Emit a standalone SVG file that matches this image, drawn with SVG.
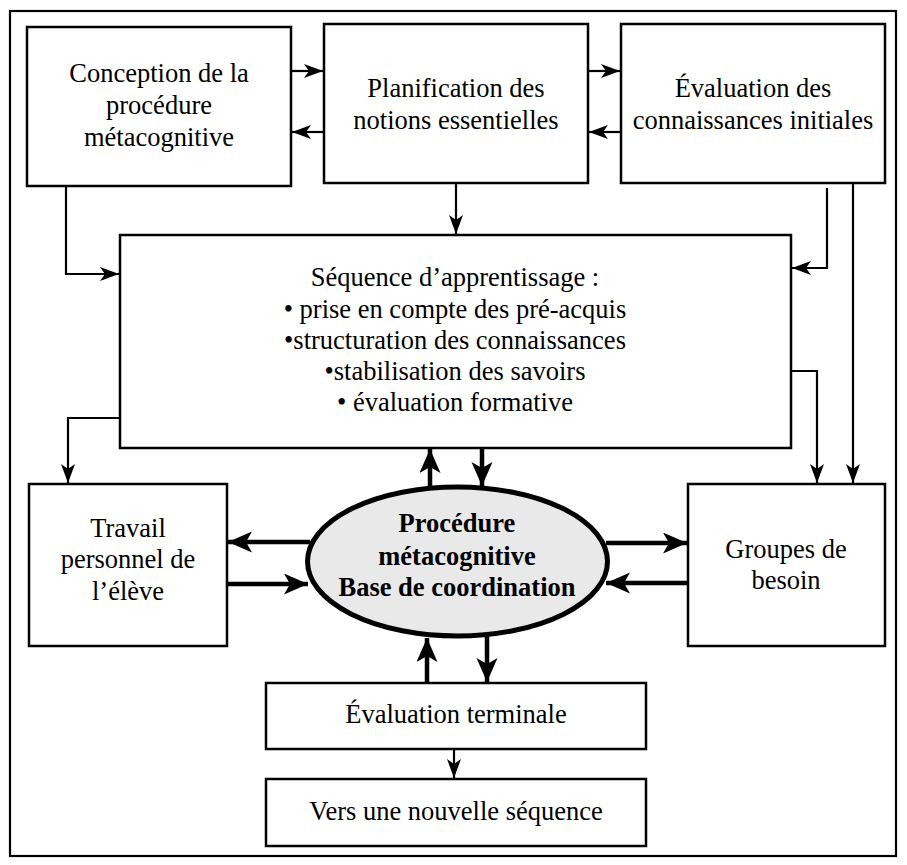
<svg xmlns="http://www.w3.org/2000/svg" width="907" height="865" viewBox="0 0 907 865">
<defs>
<style>
.box{fill:#fff;stroke:#000;stroke-width:2.5}
.t{font-family:"Liberation Serif","Times New Roman",serif;font-size:26.5px;fill:#000;text-anchor:middle}
.b{font-weight:bold}
.thin{fill:none;stroke:#000;stroke-width:2.2}
.thick{fill:none;stroke:#000;stroke-width:4.5}
</style>
<marker id="ah" markerUnits="userSpaceOnUse" markerWidth="20" markerHeight="16" refX="19" refY="7" orient="auto">
<path d="M0,0 L19,7 L0,14 L5,7 z" fill="#000"/>
</marker>
<marker id="ahb" markerUnits="userSpaceOnUse" markerWidth="26" markerHeight="24" refX="24" refY="10.5" orient="auto">
<path d="M0,0 L24,10.5 L0,21 L6,10.5 z" fill="#000"/>
</marker>
</defs>
<rect x="0" y="0" width="907" height="865" fill="#fff"/>
<rect x="10" y="11" width="886" height="845" fill="none" stroke="#000" stroke-width="2.2"/>

<g id="n1"><rect class="box" x="27" y="27" width="264" height="159"/>
<text class="t" x="159" y="82">Conception de la</text>
<text class="t" x="159" y="114">procédure</text>
<text class="t" x="159" y="146">métacognitive</text></g>

<g id="n2"><rect class="box" x="324" y="24" width="264" height="159"/>
<text class="t" x="456" y="97">Planification des</text>
<text class="t" x="456" y="129">notions essentielles</text></g>

<g id="n3"><rect class="box" x="621" y="24" width="264" height="159"/>
<text class="t" x="753" y="97">Évaluation des</text>
<text class="t" x="753" y="129">connaissances initiales</text></g>

<g id="n4"><rect class="box" x="120" y="235" width="671" height="213"/>
<text class="t" x="455" y="286">Séquence d’apprentissage :</text>
<text class="t" x="455" y="318">• prise en compte des pré-acquis</text>
<text class="t" x="455" y="349">•structuration des connaissances</text>
<text class="t" x="455" y="380">•stabilisation des savoirs</text>
<text class="t" x="455" y="411">• évaluation formative</text></g>

<g id="n5"><rect class="box" x="29" y="484" width="198" height="162"/>
<text class="t" x="128" y="537">Travail</text>
<text class="t" x="128" y="568">personnel de</text>
<text class="t" x="128" y="600">l’élève</text></g>

<g id="n6"><rect class="box" x="688" y="484" width="197" height="162"/>
<text class="t" x="786" y="558">Groupes de</text>
<text class="t" x="786" y="589">besoin</text></g>

<g id="n7"><ellipse cx="457.5" cy="561.5" rx="150" ry="74.5" fill="#e9e9e9" stroke="#000" stroke-width="5"/>
<text class="t b" x="457" y="532">Procédure</text>
<text class="t b" x="457" y="565">métacognitive</text>
<text class="t b" x="457" y="596">Base de coordination</text></g>

<g id="n8"><rect class="box" x="266" y="683" width="380" height="66"/>
<text class="t" x="456" y="723">Évaluation terminale</text></g>

<g id="n9"><rect class="box" x="266" y="779" width="380" height="67"/>
<text class="t" x="456" y="820">Vers une nouvelle séquence</text></g>

<g id="connectors">
<path class="thin" d="M291,71 H323" marker-end="url(#ah)"/>
<path class="thin" d="M324,132 H292" marker-end="url(#ah)"/>
<path class="thin" d="M588,71 H620" marker-end="url(#ah)"/>
<path class="thin" d="M621,132 H589" marker-end="url(#ah)"/>
<path class="thin" d="M456,183 V234" marker-end="url(#ah)"/>
<path class="thin" d="M66,186 V274 H119" marker-end="url(#ah)"/>
<path class="thin" d="M827,188 V268 H792" marker-end="url(#ah)"/>
<path class="thin" d="M853,183 V483" marker-end="url(#ah)"/>
<path class="thin" d="M120,418 H68 V483" marker-end="url(#ah)"/>
<path class="thin" d="M791,371 H817 V483" marker-end="url(#ah)"/>
<path class="thin" d="M454,749 V778" marker-end="url(#ah)"/>
<path class="thick" d="M430,489 V449" marker-end="url(#ahb)"/>
<path class="thick" d="M482,448 V486" marker-end="url(#ahb)"/>
<path class="thick" d="M310,542 H228" marker-end="url(#ahb)"/>
<path class="thick" d="M227,584 H308" marker-end="url(#ahb)"/>
<path class="thick" d="M606,543 H687" marker-end="url(#ahb)"/>
<path class="thick" d="M688,583 H606" marker-end="url(#ahb)"/>
<path class="thick" d="M427,683 V638" marker-end="url(#ahb)"/>
<path class="thick" d="M487,634 V682" marker-end="url(#ahb)"/>
</g>
</svg>
